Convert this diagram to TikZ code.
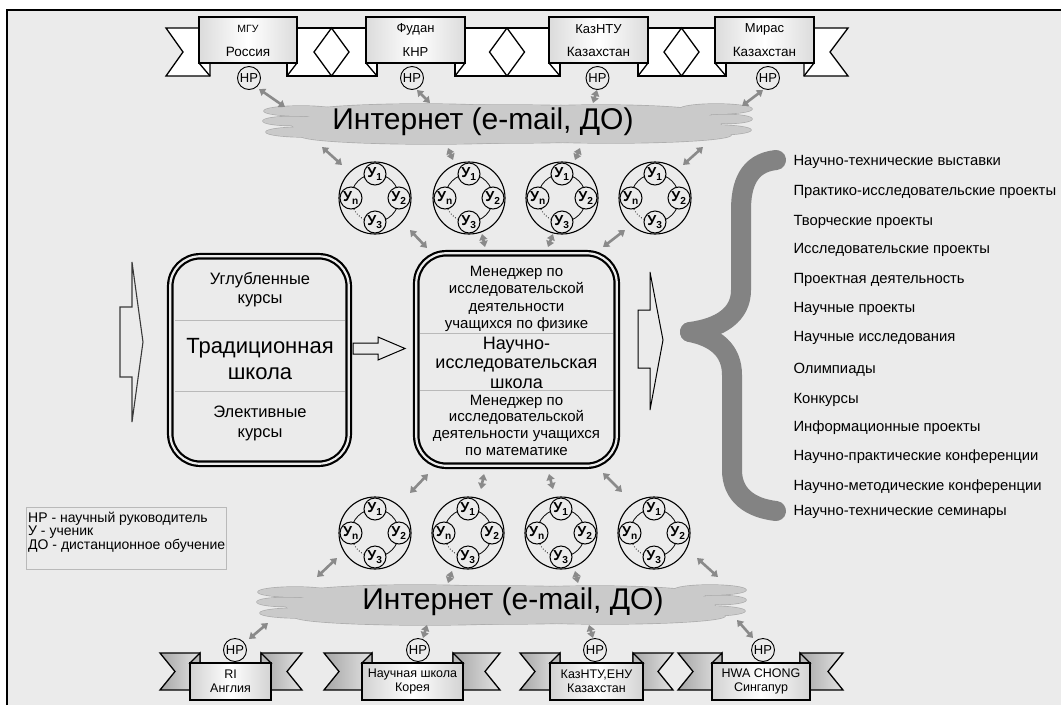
\documentclass[tikz,border=0pt]{standalone}
\usepackage{fontspec}
\setmainfont{Liberation Sans}
\usetikzlibrary{arrows.meta}
\definecolor{bg}{HTML}{EBEBEB}
\definecolor{cloudfill}{HTML}{CACACA}
\definecolor{cloudline}{HTML}{ABABAB}
\definecolor{arrowgray}{HTML}{8A8A8A}
\definecolor{bracegray}{HTML}{838383}
\newcommand{\fsz}[2]{\fontsize{#1}{#2}\selectfont}
\newcommand{\studgroup}[3]{%
  \node[gout] (#1) at (#2,#3) {};
  \draw[line width=0.8pt] (#2,#3) ++(180:24) arc[start angle=180,end angle=450,radius=24];
  \draw[line width=0.8pt, dotted] (#2,#3) ++(90:24) arc[start angle=90,end angle=180,radius=24];
  \node[stud] (#1-1) at (#2,#3-24) {У\textsubscript{1}};
  \node[stud] (#1-2) at (#2+24,#3) {У\textsubscript{2}};
  \node[stud] (#1-3) at (#2,#3+24) {У\textsubscript{3}};
  \node[stud] (#1-n) at (#2-24,#3) {У\textsubscript{n}};
}
\newcommand{\cloudat}[2]{%
  \foreach \dx/\dy/\rx/\ry in {0/1/215/19, -85/-10/120/9, 95/-9/110/9, -75/13/130/8, 105/12/120/8, -205/-12/37/5, -215/-2/28/4.5, -200/9/40/5, 210/-14/36/5, 220/-4/26/4.5, 207/7/38/5}
    \draw[cloudline, line width=1.3pt] (#1+\dx,#2+\dy) ellipse [x radius=\rx, y radius=\ry];
  \foreach \dx/\dy/\rx/\ry in {0/1/215/19, -85/-10/120/9, 95/-9/110/9, -75/13/130/8, 105/12/120/8, -205/-12/37/5, -215/-2/28/4.5, -200/9/40/5, 210/-14/36/5, 220/-4/26/4.5, 207/7/38/5}
    \fill[cloudfill] (#1+\dx,#2+\dy) ellipse [x radius=\rx, y radius=\ry];
}
\newcommand{\botbanner}[8]{% name, x0, L, R, x1, line1, line2, hp x
  \draw[btail] (#2,653) -- (#3+10,653) -- (#3+10,690) -- (#2,690) -- (#2+15,671.5) -- cycle;
  \draw[btail] (#4-10,653) -- (#5,653) -- (#5-15,671.5) -- (#5,690) -- (#4-10,690) -- cycle;
  \draw[bfold] (#3,663) -- (#3+10,653) -- (#3+10,663) -- cycle;
  \draw[bfold] (#4,663) -- (#4-10,653) -- (#4-10,663) -- cycle;
  \node[bbox, minimum width=#4-#3, minimum height=37] (#1) at ({(#3+#4)/2},681.5) {};
  \node[font=\fsz{12.5}{13.5}, align=center] (#1-t) at ({(#3+#4)/2},681.5) {#6\\#7};
  \node[hp] (#1-hp) at (#8,650) {НР};
}
\begin{document}
\begin{tikzpicture}[x=1pt,y=-1pt,
  garrow/.style={draw=arrowgray, line width=2.6pt, {Triangle[length=6pt,width=8pt]}-{Triangle[length=6pt,width=8pt]}},
  gout/.style={circle, draw, line width=1.1pt, fill=bg, minimum size=72pt, inner sep=0},
  stud/.style={circle, draw, line width=1pt, fill=bg, minimum size=22pt, inner sep=0, font=\fsz{14.5}{14}\bfseries},
  hp/.style={circle, draw, line width=0.9pt, fill=bg, minimum size=23pt, inner sep=0, font=\fsz{13}{13}},
  band/.style={draw, line width=1.3pt, fill=white},
  tbox/.style={draw, line width=1.3pt, left color=gray!28, right color=gray!28, middle color=white, inner sep=0, minimum height=46},
  btail/.style={draw, line width=1.3pt, left color=gray!70, right color=gray!22},
  bfold/.style={draw, line width=1.3pt, fill=gray!55},
  bbox/.style={draw, line width=1.3pt, left color=gray!35, right color=gray!35, middle color=white, inner sep=0},
  bigbox/.style={draw, line width=2.2pt, double=bg, double distance=2.2pt, rounded corners=30, inner sep=0},
  divider/.style={draw=gray!55, line width=0.8pt},
  hollow/.style={draw, line width=1pt, fill=bg},
  item/.style={anchor=west, font=\fsz{14.8}{16}},
]
\useasboundingbox (0,0) rectangle (1061,705);
% frame
\fill[bg] (7,10) rectangle (1061,705);
\draw[line width=1.3pt] (7,705) -- (7,10) -- (1061,10);

% ---------- top banner ----------
\draw[band] (166,28) -- (210,28) -- (210,76) -- (166,76) -- (183,52) -- cycle;
\draw[band] (287,28) rectangle (377,76);
\draw[band] (455,28) rectangle (560,76);
\draw[band] (638,28) rectangle (726,76);
\draw[band] (804,28) -- (848,28) -- (830,52) -- (848,76) -- (804,76) -- cycle;
\foreach \cx in {331.5,507,681.5}
  \draw[band] (\cx-17.5,52) -- (\cx,28) -- (\cx+17.5,52) -- (\cx,76) -- cycle;
\node[tbox, minimum width=98] (t1) at (248,40) {};
\node[tbox, minimum width=99] (t2) at (415.5,40) {};
\node[tbox, minimum width=99] (t3) at (598.5,40) {};
\node[tbox, minimum width=99] (t4) at (764.5,40) {};
\foreach \a/\b in {199/210,297/287,366/377,465/455,549/560,648/638,715/726,814/804}
  \draw[line width=1.3pt] (\a,63) -- (\b,76);
\node[font=\fsz{10.5}{11}] (t1a) at (248,29) {МГУ};
\node[font=\fsz{13.5}{13}] (t1b) at (248,52) {Россия};
\node[font=\fsz{13}{13}] (t2a) at (415.5,29) {Фудан};
\node[font=\fsz{13}{13}] (t2b) at (415.5,52) {КНР};
\node[font=\fsz{13}{13}] (t3a) at (598.5,29) {КазНТУ};
\node[font=\fsz{13.5}{13}] (t3b) at (598.5,52) {Казахстан};
\node[font=\fsz{13}{13}] (t4a) at (764.5,29) {Мирас};
\node[font=\fsz{13.5}{13}] (t4b) at (764.5,52) {Казахстан};
\node[hp] (hpT1) at (249,78) {НР};
\node[hp] (hpT2) at (412,78) {НР};
\node[hp] (hpT3) at (597.5,78) {НР};
\node[hp] (hpT4) at (768,78) {НР};

% ---------- clouds ----------
\cloudat{506}{123}
\node[font=\fsz{30}{30}] (cloudT) at (483,122) {Интернет (e-mail, ДО)};
\cloudat{500}{604}
\node[font=\fsz{30}{30}] (cloudB) at (513,602) {Интернет (e-mail, ДО)};

% ---------- student groups ----------
\studgroup{gT1}{375}{198}
\studgroup{gT2}{469}{198}
\studgroup{gT3}{562}{198}
\studgroup{gT4}{655}{198}
\studgroup{gB1}{375}{533}
\studgroup{gB2}{468}{533}
\studgroup{gB3}{561}{533}
\studgroup{gB4}{654}{533}

% ---------- main boxes ----------
\node[bigbox, minimum width=178.5, minimum height=207.5] (trad) at (259.5,360) {};
\draw[divider] (175,320) -- (345,320);
\draw[divider] (175,391) -- (345,391);
\node[font=\fsz{16.5}{19}, align=center] (trad1) at (260,290) {Углубленные\\курсы};
\node[font=\fsz{22}{26}, align=center] (trad2) at (260,359) {Традиционная\\школа};
\node[font=\fsz{16.5}{20}, align=center] (trad3) at (260,423) {Элективные\\курсы};

\node[bigbox, minimum width=200.5, minimum height=212.5] (nis) at (516.5,359.5) {};
\draw[divider] (420,333) -- (613,333);
\draw[divider] (420,390) -- (613,390);
\node[font=\fsz{15}{17.3}, align=center] (nis1) at (516.5,299) {Менеджер по\\исследовательской\\деятельности\\учащихся по физике};
\node[font=\fsz{18}{19.5}, align=center] (nis2) at (516.5,362.5) {Научно-\\исследовательская\\школа};
\node[font=\fsz{15}{16.7}, align=center] (nis3) at (516.5,425) {Менеджер по\\исследовательской\\деятельности учащихся\\по математике};

% hollow arrows
\draw[draw=gray!45!black, line width=1.1pt, fill=bg] (120,307) -- (132,307) -- (132,262) -- (143,342) -- (132,422) -- (132,377) -- (120,377) -- cycle;
\draw[hollow] (353,343) -- (378,343) -- (378,337) -- (405,348.5) -- (378,360) -- (378,354) -- (353,354) -- cycle;
\draw[hollow] (638,310) -- (650,310) -- (650,272) -- (663,340) -- (650,410) -- (650,368) -- (638,368) -- cycle;

% brace
\draw[bracegray, line width=20pt, line cap=round, line join=round]
  (776,160) .. controls (748,163) and (741,185) .. (741,210) -- (741,290) .. controls (741,315) and (720,328) .. (690,332);
\draw[bracegray, line width=20pt, line cap=round, line join=round]
  (690,332) .. controls (715,337) and (732,350) .. (732,375) -- (732,470) .. controls (732,495) and (750,508) .. (776,511);

% list
\node[item] (l1) at (790,162) {Научно-технические выставки};
\node[item] (l2) at (790,192) {Практико-исследовательские проекты};
\node[item] (l3) at (790,222) {Творческие проекты};
\node[item] (l4) at (790,250) {Исследовательские проекты};
\node[item] (l5) at (790,280) {Проектная деятельность};
\node[item] (l6) at (790,309) {Научные проекты};
\node[item] (l7) at (790,338) {Научные исследования};
\node[item] (l8) at (790,370) {Олимпиады};
\node[item] (l9) at (790,400) {Конкурсы};
\node[item] (l10) at (790,428) {Информационные проекты};
\node[item] (l11) at (790,457) {Научно-практические конференции};
\node[item] (l12) at (790,487) {Научно-методические конференции};
\node[item] (l13) at (790,512) {Научно-технические семинары};

% legend
\node[draw=gray!55, line width=0.7pt, minimum width=200, minimum height=62, anchor=north west, inner sep=0] (legbox) at (26,507) {};
\node[anchor=north west, align=left, inner sep=0, font=\fsz{14}{13.2}] (legtxt) at (28,512) {НР - научный руководитель\\У - ученик\\ДО - дистанционное обучение};

% ---------- bottom banners ----------
\botbanner{b1}{160}{190}{271}{302}{RI}{Англия}{235}
\botbanner{b2}{324}{362}{463}{500}{Научная школа}{Корея}{418}
\botbanner{b3}{520}{550}{643}{673}{КазНТУ,ЕНУ}{Казахстан}{595}
\botbanner{b4}{678}{712}{810}{843}{HWA CHONG}{Сингапур}{763}

% ---------- gray arrows ----------
\coordinate (p1) at (259,89); \coordinate (q1) at (285,107);
\coordinate (p2) at (417,90); \coordinate (q2) at (430,103);
\coordinate (p3) at (597,90); \coordinate (q3) at (593,103);
\coordinate (p4) at (763,90); \coordinate (q4) at (742,106);
\foreach \i in {1,...,4} \draw[garrow] (p\i) -- (q\i);
\coordinate (c1) at (322,147); \coordinate (d1) at (342,165);
\coordinate (c2) at (448,148); \coordinate (d2) at (453,160);
\coordinate (c3) at (580,148); \coordinate (d3) at (575,160);
\coordinate (c4) at (703,147); \coordinate (d4) at (683,165);
\foreach \i in {1,...,4} \draw[garrow] (c\i) -- (d\i);
\coordinate (e1) at (410,230); \coordinate (f1) at (427,248);
\coordinate (e2) at (482,234); \coordinate (f2) at (485,247);
\coordinate (e3) at (553,234); \coordinate (f3) at (548,247);
\coordinate (e4) at (625,230); \coordinate (f4) at (603,247);
\foreach \i in {1,...,4} \draw[garrow] (e\i) -- (f\i);
\coordinate (g1) at (428,474); \coordinate (h1) at (410,493);
\coordinate (g2) at (484,474); \coordinate (h2) at (481,489);
\coordinate (g3) at (549,474); \coordinate (h3) at (553,489);
\coordinate (g4) at (603,473); \coordinate (h4) at (622,492);
\foreach \i in {1,...,4} \draw[garrow] (g\i) -- (h\i);
\coordinate (j1) at (337,558); \coordinate (k1) at (317,577);
\coordinate (j2) at (452,571); \coordinate (k2) at (448,583);
\coordinate (j3) at (575,571); \coordinate (k3) at (578,583);
\coordinate (j4) at (697,558); \coordinate (k4) at (718,577);
\foreach \i in {1,...,4} \draw[garrow] (j\i) -- (k\i);
\coordinate (m1) at (268,623); \coordinate (n1) at (249,639);
\coordinate (m2) at (427,625); \coordinate (n2) at (423,638);
\coordinate (m3) at (589,625); \coordinate (n3) at (593,638);
\coordinate (m4) at (737,620); \coordinate (n4) at (753,638);
\foreach \i in {1,...,4} \draw[garrow] (m\i) -- (n\i);
\end{tikzpicture}
\end{document}
